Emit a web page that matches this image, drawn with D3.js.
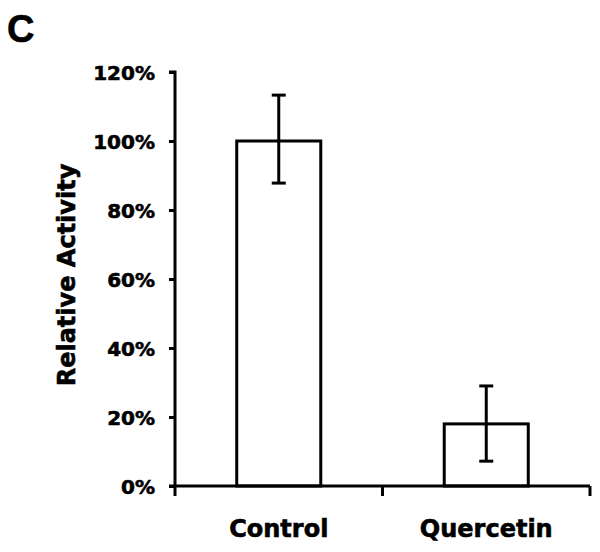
<!DOCTYPE html>
<html>
<head>
<meta charset="utf-8">
<script src="https://cdn.jsdelivr.net/npm/d3@7"></script>
<style>
	body { margin: 0; background: #fff; }
	text { font-family: 'DejaVu Sans', sans-serif; font-weight: bold; fill: #000; stroke: #000; stroke-width: 0.6px; }
</style>
</head>
<body>
<div id="root"></div>
<script>
const categories = ['Control', 'Quercetin']
const values = [1.00, 0.18]
const errHigh = [1.133, 0.29]
const errLow = [0.878, 0.072]
const yTicks = [0, 0.2, 0.4, 0.6, 0.8, 1.0, 1.2]

const C = {
	width: 600,
	height: 552,
	left: 175,
	right: 590,
	top: 72,
	bottom: 486,
}

const data = categories.map((c, i) => ({
	name: c,
	value: values[i],
	hi: errHigh[i],
	lo: errLow[i],
}))

const svg = d3.select('#root').append('svg')
	.attr('width', C.width)
	.attr('height', C.height)

const x = d3.scaleBand()
	.domain(categories)
	.range([C.left, C.right])
	.paddingInner(0.595)
	.paddingOuter(0.2975)

const y = d3.scaleLinear()
	.domain([0, 1.2])
	.range([C.bottom, C.top])

// panel letter
svg.append('text')
	.attr('x', 7)
	.attr('y', 42)
	.attr('font-size', 38)
	.style('font-family', 'Liberation Sans, Arial, sans-serif')
	.text('C')

// bars
svg.selectAll('.bar')
	.data(data)
	.enter()
	.append('rect')
	.attr('class', 'bar')
	.attr('x', d => x(d.name))
	.attr('y', d => y(d.value))
	.attr('width', x.bandwidth())
	.attr('height', d => y(0) - y(d.value))
	.attr('fill', '#fff')
	.attr('stroke', '#000')
	.attr('stroke-width', 3)

// error bars
const err = svg.selectAll('.err')
	.data(data)
	.enter()
	.append('g')
	.attr('class', 'err')
	.attr('transform', d => `translate(${x(d.name) + x.bandwidth() / 2},0)`)

err.append('line')
	.attr('y1', d => y(d.hi))
	.attr('y2', d => y(d.lo))
	.attr('stroke', '#000')
	.attr('stroke-width', 3)

err.selectAll('.cap')
	.data(d => [d.hi, d.lo])
	.enter()
	.append('line')
	.attr('x1', -7)
	.attr('x2', 7)
	.attr('y1', d => y(d))
	.attr('y2', d => y(d))
	.attr('stroke', '#000')
	.attr('stroke-width', 3)

// y axis
const axisY = svg.append('g')
	.attr('transform', `translate(${C.left},0)`)
	.call(d3.axisLeft(y)
		.tickValues(yTicks)
		.tickFormat(d3.format('.0%'))
		.tickSize(6)
		.tickPadding(14))

axisY.select('.domain')
	.attr('d', `M-6,${C.top}H0V${C.bottom}`)
	.attr('stroke-width', 3)
axisY.selectAll('.tick line').attr('stroke-width', 3)
axisY.selectAll('.tick text')
	.attr('font-size', 20)
	.attr('dy', '0.36em')
	.style('font-family', 'DejaVu Sans, sans-serif')

// x axis
const xEdges = [C.left, (C.left + C.right) / 2, C.right]
svg.append('line')
	.attr('x1', C.left - 6)
	.attr('x2', C.right)
	.attr('y1', C.bottom)
	.attr('y2', C.bottom)
	.attr('stroke', '#000')
	.attr('stroke-width', 3)

svg.selectAll('.xtick')
	.data(xEdges)
	.enter()
	.append('line')
	.attr('class', 'xtick')
	.attr('x1', d => d)
	.attr('x2', d => d)
	.attr('y1', C.bottom)
	.attr('y2', C.bottom + 10)
	.attr('stroke', '#000')
	.attr('stroke-width', 3)

svg.selectAll('.xlabel')
	.data(categories)
	.enter()
	.append('text')
	.attr('class', 'xlabel')
	.attr('x', d => x(d) + x.bandwidth() / 2)
	.attr('y', 537)
	.attr('text-anchor', 'middle')
	.attr('font-size', 24)
	.text(d => d)

// y label
svg.append('text')
	.attr('transform', 'translate(75,275) rotate(-90)')
	.attr('text-anchor', 'middle')
	.attr('font-size', 24)
	.text('Relative Activity')
</script>
</body>
</html>
